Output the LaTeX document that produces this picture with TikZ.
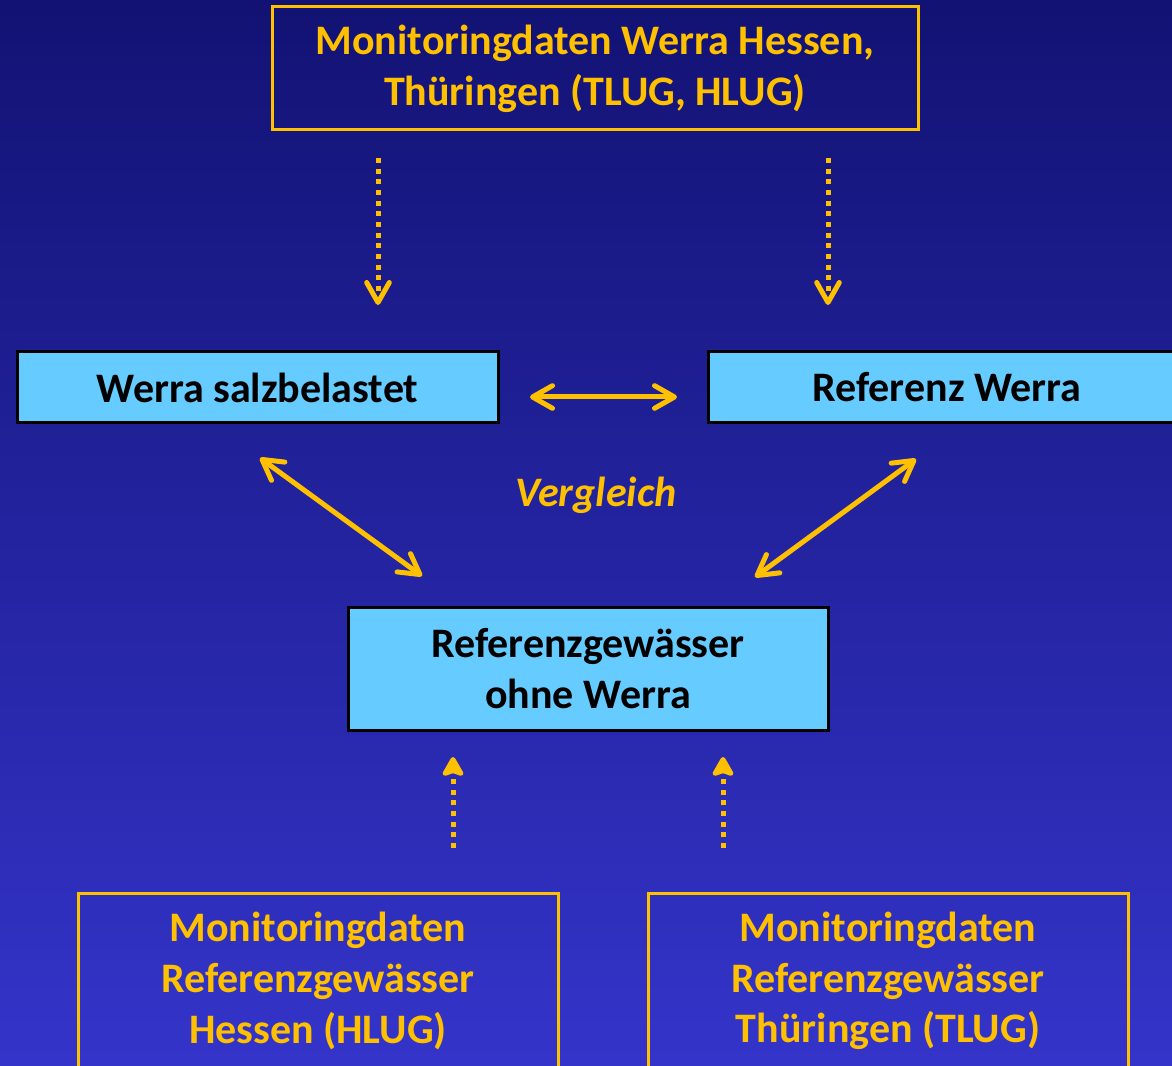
\documentclass[tikz,border=0pt]{standalone}
\usepackage{fontspec}
\setmainfont{Carlito}
\usetikzlibrary{arrows.meta,calc}
\definecolor{gold}{HTML}{FFC000}
\definecolor{boxblue}{HTML}{66CCFF}
\definecolor{bgtop}{RGB}{18,18,116}
\definecolor{bgbot}{RGB}{52,52,202}
\tikzset{
	datenbox/.style={draw=gold, line width=2.25pt, text=gold, align=center, inner sep=0pt,
		font=\bfseries\fontsize{31.5}{38}\selectfont},
	werrabox/.style={draw=black, fill=boxblue, line width=2.25pt, text=black, align=center, inner sep=0pt,
		font=\bfseries\fontsize{31.5}{38}\selectfont},
	vglpfeil/.style={gold, line width=3.75pt,
		{Straight Barb[round,length=15pt,width=17pt]}-{Straight Barb[round,length=15pt,width=17pt]}},
	datpfeil/.style={gold, line width=3.75pt, dash pattern=on 3.75pt off 4.25pt}
}
\begin{document}
\begin{tikzpicture}[x=0.75pt,y=-0.75pt]
				\useasboundingbox (0,0) rectangle (1172,1066);
				\shade[top color=bgtop, bottom color=bgbot] (0,0) rectangle (1172,1066);
				
				% Kaesten
				\node[datenbox, minimum width=484.5pt, minimum height=92.25pt] (mon) at (595,68.5)
				{Monitoringdaten Werra Hessen,\\ Thüringen (TLUG, HLUG)};
				\node[werrabox, minimum width=360.75pt, minimum height=53.25pt] (salz) at (257.5,387.5)
				{Werra salzbelastet};
				\node[werrabox, minimum width=358.5pt, minimum height=53.25pt] (refw) at (947,387.5)
				{Referenz Werra};
				\node[werrabox, minimum width=360pt, minimum height=92.25pt] (refg) at (588,668.5)
				{Referenzgewässer\\ ohne Werra};
				\node[datenbox, minimum width=360pt, minimum height=132pt] (monhe) at (318,981)
				{Monitoringdaten\\ Referenzgewässer\\ Hessen (HLUG)};
				\node[datenbox, minimum width=360pt, minimum height=132pt] (month) at (888,981)
				{Monitoringdaten\\ Referenzgewässer\\ Thüringen (TLUG)};
				\node[text=gold, font=\bfseries\itshape\fontsize{31.5}{38}\selectfont] (vgl) at (596,495) {Vergleich};
				
				% Pfeilenden
				\coordinate (a1) at (378,158);
				\coordinate (a2) at (378,305);
				\coordinate (b1) at (828,158);
				\coordinate (b2) at (828,305);
				\coordinate (c1) at (453,848);
				\coordinate (c2) at (453,757);
				\coordinate (d1) at (723,848);
				\coordinate (d2) at (723,757);
				\coordinate (h1) at (530,397);
				\coordinate (h2) at (677,397);
				\coordinate (l1) at (260,458);
				\coordinate (l2) at (422,576);
				\coordinate (r1) at (916,459);
				\coordinate (r2) at (755,577);
				
				\foreach \x in {a,b}{
					\draw[datpfeil, -{Straight Barb[round,length=15pt,width=17pt,line width=3.75pt]}] (\x1) -- (\x2);}
				\foreach \x in {c,d}{
					\draw[datpfeil, -{Stealth[round,length=17pt,width=19pt,inset=3pt]}] (\x1) -- (\x2);}
				\foreach \x in {h,l,r}{
					\draw[vglpfeil] (\x1) -- (\x2);}
\end{tikzpicture}
\end{document}
